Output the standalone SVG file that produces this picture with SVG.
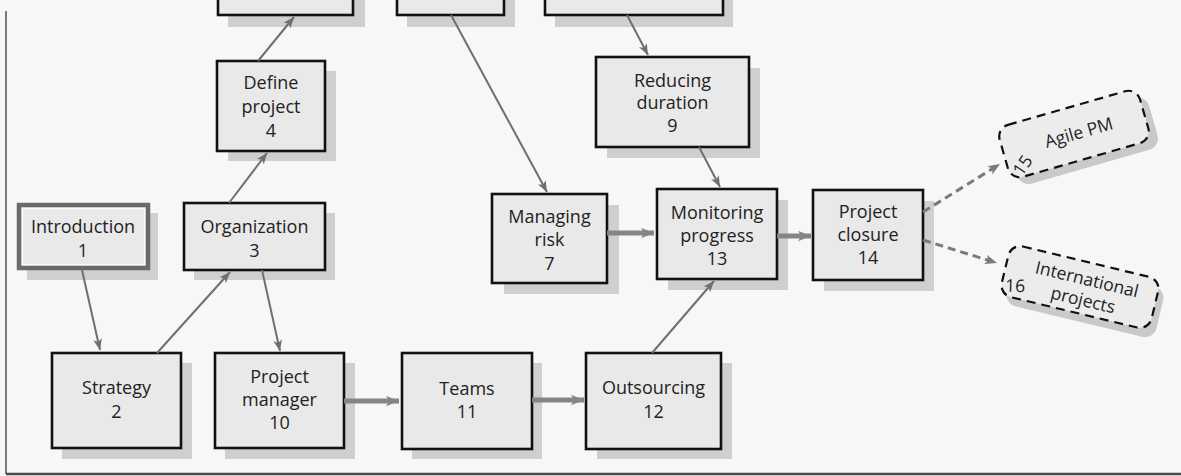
<svg xmlns="http://www.w3.org/2000/svg" width="1181" height="476" viewBox="0 0 1181 476">
  <style>
    .bg { fill: #f7f7f7; }
    .frame { stroke: #5a5a5a; stroke-width: 1.6; fill: none; }
    .frame-b { stroke: #4a4a4a; stroke-width: 2.5; fill: none; }
    .shadow { fill: #cfcfcf; }
    .box { fill: #e9e9e9; stroke: #111; stroke-width: 2.6; }
    .lbl { font-family: "Open Sans", "Liberation Sans", sans-serif; font-size: 18px; fill: #222; text-anchor: middle; }
    .small { font-family: "Open Sans", "Liberation Sans", sans-serif; font-size: 17.5px; fill: #222; text-anchor: middle; }
    .thin { stroke: #6f6f6f; stroke-width: 2; fill: none; marker-end: url(#ah); }
    .thick { stroke: #858585; stroke-width: 5; fill: none; marker-end: url(#ahBig); }
    .dash { stroke: #7a7a7a; stroke-width: 3; stroke-dasharray: 8 5; fill: none; marker-end: url(#ahDash); }
    .dbox { fill: #ececec; stroke: #111; stroke-width: 2.2; stroke-dasharray: 9 6; }
    .dshadow { fill: #c9c9c9; }
  </style>
  <defs>
    <marker id="ah" viewBox="0 0 10 8" refX="10" refY="4" markerWidth="11" markerHeight="9" markerUnits="userSpaceOnUse" orient="auto">
      <path d="M0,0 L10,4 L0,8 L2.5,4 Z" fill="#6f6f6f"/>
    </marker>
    <marker id="ahBig" viewBox="0 0 10 8" refX="10" refY="4" markerWidth="13" markerHeight="11" markerUnits="userSpaceOnUse" orient="auto">
      <path d="M0,0 L10,4 L0,8 L2.5,4 Z" fill="#858585"/>
    </marker>
    <marker id="ahDash" viewBox="0 0 10 8" refX="10" refY="4" markerWidth="12" markerHeight="10" markerUnits="userSpaceOnUse" orient="auto">
      <path d="M0,0 L10,4 L0,8 L2.5,4 Z" fill="#7a7a7a"/>
    </marker>
  </defs>

  <rect class="bg" x="0" y="0" width="1181" height="476"/>
  <!-- page frame -->
  <line class="frame" x1="6" y1="11" x2="6" y2="474"/>
  <line class="frame-b" x1="6" y1="474" x2="1181" y2="474"/>

  <!-- boxes cut off at the top edge -->
  <g id="top-a">
    <rect class="shadow" x="228" y="-50" width="137" height="77"/>
    <rect class="box" x="218" y="-60" width="135" height="75"/>
  </g>
  <g id="top-b">
    <rect class="shadow" x="407" y="-50" width="108" height="77"/>
    <rect class="box" x="397" y="-60" width="107" height="75"/>
  </g>
  <g id="top-c">
    <rect class="shadow" x="555" y="-50" width="178" height="77"/>
    <rect class="box" x="545" y="-60" width="178" height="75"/>
  </g>

  <g id="n1">
    <rect class="shadow" x="27" y="213" width="131" height="67"/>
    <rect x="19" y="205" width="129" height="63" fill="#e9e9e9" stroke="#6a6a6a" stroke-width="4.5"/>
    <rect x="22.5" y="208.5" width="122" height="56" fill="none" stroke="#fafafa" stroke-width="1.2"/>
    <text class="lbl" x="83" y="233">Introduction</text>
    <text class="lbl" x="83" y="257">1</text>
  </g>

  <g id="n3">
    <rect class="shadow" x="194" y="213" width="141" height="67"/>
    <rect class="box" x="184" y="203" width="141" height="67"/>
    <text class="lbl" x="254.5" y="233">Organization</text>
    <text class="lbl" x="254.5" y="257">3</text>
  </g>

  <g id="n2">
    <rect class="shadow" x="62" y="363" width="130" height="96"/>
    <rect class="box" x="52" y="353" width="129" height="95"/>
    <text class="lbl" x="116.5" y="394">Strategy</text>
    <text class="lbl" x="116.5" y="418">2</text>
  </g>

  <g id="n10">
    <rect class="shadow" x="225" y="363" width="130" height="96"/>
    <rect class="box" x="215" y="353" width="129" height="95"/>
    <text class="lbl" x="279.5" y="383">Project</text>
    <text class="lbl" x="279.5" y="406">manager</text>
    <text class="lbl" x="279.5" y="429">10</text>
  </g>

  <g id="n4">
    <rect class="shadow" x="228" y="71" width="108" height="90"/>
    <rect class="box" x="217" y="61" width="108" height="90"/>
    <text class="lbl" x="271" y="89">Define</text>
    <text class="lbl" x="271" y="113">project</text>
    <text class="lbl" x="271" y="137">4</text>
  </g>

  <g id="n9">
    <rect class="shadow" x="607" y="68" width="153" height="90"/>
    <rect class="box" x="596" y="57" width="153" height="90"/>
    <text class="lbl" x="672.5" y="87">Reducing</text>
    <text class="lbl" x="672.5" y="109">duration</text>
    <text class="lbl" x="672.5" y="132">9</text>
  </g>

  <g id="n7">
    <rect class="shadow" x="504" y="205" width="115" height="89"/>
    <rect class="box" x="492" y="194" width="115" height="89"/>
    <text class="lbl" x="549.5" y="223">Managing</text>
    <text class="lbl" x="549.5" y="246">risk</text>
    <text class="lbl" x="549.5" y="270">7</text>
  </g>

  <g id="n13">
    <rect class="shadow" x="668" y="200" width="120" height="90"/>
    <rect class="box" x="657" y="189" width="120" height="90"/>
    <text class="lbl" x="717" y="219">Monitoring</text>
    <text class="lbl" x="717" y="242">progress</text>
    <text class="lbl" x="717" y="265">13</text>
  </g>

  <g id="n11">
    <rect class="shadow" x="412" y="363" width="130" height="96"/>
    <rect class="box" x="402" y="353" width="130" height="96"/>
    <text class="lbl" x="467" y="395">Teams</text>
    <text class="lbl" x="467" y="418">11</text>
  </g>

  <g id="n12">
    <rect class="shadow" x="597" y="363" width="135" height="96"/>
    <rect class="box" x="586" y="353" width="135" height="96"/>
    <text class="lbl" x="653.5" y="394">Outsourcing</text>
    <text class="lbl" x="653.5" y="418">12</text>
  </g>

  <g id="n14">
    <rect class="shadow" x="824" y="201" width="110" height="90"/>
    <rect class="box" x="813" y="190" width="110" height="90"/>
    <text class="lbl" x="868" y="218">Project</text>
    <text class="lbl" x="868" y="241">closure</text>
    <text class="lbl" x="868" y="264">14</text>
  </g>

  <g id="n15" transform="translate(1074,134) rotate(-16)">
    <rect class="dshadow" x="-66" y="-18" width="146" height="54" rx="12"/>
    <rect class="dbox" x="-73" y="-27" width="146" height="54" rx="12"/>
    <text class="small" x="5" y="6">Agile PM</text>
    <text class="small" x="-58" y="22" transform="rotate(-40 -58 16)">15</text>
  </g>

  <g id="n16" transform="translate(1080,287) rotate(13.5)">
    <rect class="dshadow" x="-70" y="-18" width="154" height="52" rx="12"/>
    <rect class="dbox" x="-77" y="-26" width="154" height="52" rx="12"/>
    <text class="small" x="5" y="-3">International</text>
    <text class="small" x="6" y="18">projects</text>
    <text class="small" x="-63" y="20" transform="rotate(-12 -63 15)">16</text>
  </g>

  <g id="connectors">
    <line class="thin" x1="82" y1="270" x2="100" y2="350"/>
    <line class="thin" x1="157" y1="353" x2="230" y2="272"/>
    <line class="thin" x1="262" y1="270" x2="280" y2="351"/>
    <line class="thin" x1="229" y1="203" x2="267" y2="153"/>
    <line class="thin" x1="258" y1="61" x2="294" y2="17"/>
    <line class="thin" x1="451" y1="15" x2="547" y2="192"/>
    <line class="thin" x1="627" y1="15" x2="648" y2="55"/>
    <line class="thin" x1="699" y1="147" x2="720" y2="187"/>
    <line class="thin" x1="652" y1="353" x2="714" y2="281"/>
    <line class="thick" x1="607" y1="233" x2="654" y2="233"/>
    <line class="thick" x1="777" y1="236" x2="811" y2="236"/>
    <line class="thick" x1="344" y1="401" x2="399" y2="401"/>
    <line class="thick" x1="532" y1="400" x2="584" y2="400"/>
    <path class="dash" d="M923,212 L1000,164"/>
    <path class="dash" d="M923,240 L997,263"/>
  </g>
</svg>
